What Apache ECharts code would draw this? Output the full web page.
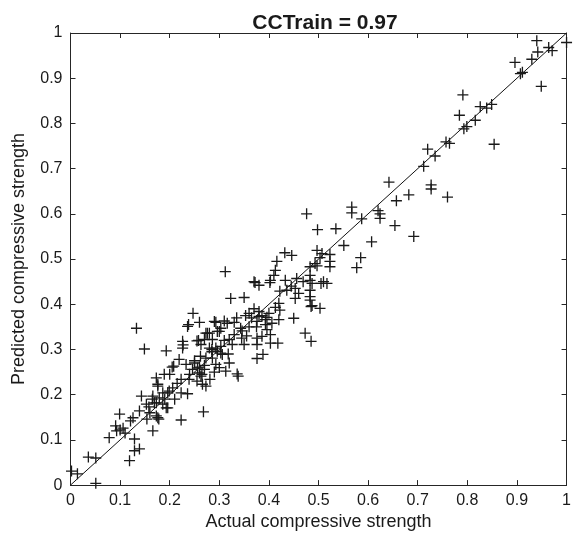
<!DOCTYPE html>
<html>
<head>
<meta charset="utf-8">
<script src="https://cdn.jsdelivr.net/npm/echarts@6/dist/echarts.min.js"></script>
<style>html,body{margin:0;padding:0;background:#fff}#c{width:574px;height:536px}</style>
</head>
<body>
<div id="c"></div>
<script>
const chartTitle = 'CCTrain = 0.97';
const xName = 'Actual compressive strength';
const yName = 'Predicted compressive strength';
const axisMin = 0, axisMax = 1, axisStep = 0.1;
const diagonal = [[0, 0], [1, 1]];

const actualValues = [
0.002,0.014,0.036,0.051,0.051,0.078,0.091,0.099,0.093,0.100,0.106,0.121,0.126,0.139,0.143,0.129,0.129,0.139,0.119,0.154,
0.158,0.166,0.165,0.176,0.173,0.179,0.186,0.176,0.193,0.133,0.149,0.193,0.223,0.268,0.247,0.236,0.260,0.227,0.219,0.208,
0.173,0.199,0.255,0.276,0.290,0.226,0.226,0.258,0.280,0.205,0.233,0.246,0.256,0.260,0.281,0.266,0.239,0.223,0.189,0.176,
0.206,0.196,0.223,0.236,0.166,0.153,0.169,0.186,0.196,0.173,0.178,0.312,0.370,0.323,0.350,0.293,0.300,0.238,0.372,0.402,
0.310,0.316,0.303,0.343,0.346,0.353,0.380,0.386,0.393,0.400,0.296,0.273,0.330,0.270,0.286,0.320,0.326,0.263,0.280,0.303,
0.350,0.376,0.296,0.306,0.273,0.286,0.376,0.260,0.270,0.293,0.320,0.313,0.336,0.338,0.263,0.273,0.432,0.446,0.416,0.413,
0.410,0.403,0.433,0.380,0.456,0.469,0.487,0.510,0.422,0.436,0.453,0.460,0.453,0.483,0.420,0.422,0.413,0.485,0.503,0.450,
0.396,0.380,0.376,0.393,0.406,0.420,0.396,0.376,0.386,0.403,0.403,0.418,0.473,0.485,0.388,0.567,0.567,0.587,0.620,0.624,
0.498,0.535,0.607,0.551,0.585,0.577,0.497,0.507,0.503,0.493,0.497,0.523,0.523,0.523,0.483,0.483,0.483,0.505,0.517,0.483,
0.483,0.487,0.476,0.940,0.964,0.971,1.000,0.942,0.930,0.896,0.907,0.911,0.949,0.791,0.826,0.839,0.849,0.784,0.816,0.793,
0.799,0.854,0.757,0.764,0.720,0.735,0.712,0.642,0.727,0.727,0.657,0.682,0.760,0.624,0.654,0.692,0.250,0.265,0.270,0.255,
0.240,0.285,0.310,0.330,0.335,0.360,0.365,0.370,0.290,0.300,0.355,0.360,0.215,0.210,0.190,0.160,0.110,0.200,0.375,0.445,
0.285,0.293,0.303,0.250,0.262,0.345,0.318
];
const predictedValues = [
0.031,0.025,0.062,0.060,0.004,0.105,0.131,0.157,0.120,0.122,0.126,0.142,0.149,0.164,0.197,0.102,0.076,0.080,0.054,0.146,
0.173,0.120,0.190,0.149,0.182,0.193,0.204,0.219,0.171,0.347,0.301,0.297,0.144,0.162,0.380,0.351,0.360,0.310,0.278,0.263,
0.237,0.208,0.319,0.336,0.362,0.318,0.303,0.320,0.336,0.261,0.267,0.256,0.259,0.248,0.234,0.223,0.234,0.234,0.245,0.223,
0.215,0.204,0.204,0.202,0.197,0.179,0.182,0.179,0.171,0.153,0.146,0.472,0.450,0.413,0.415,0.360,0.340,0.355,0.448,0.448,
0.363,0.358,0.347,0.347,0.341,0.375,0.384,0.375,0.366,0.380,0.340,0.336,0.333,0.322,0.322,0.322,0.311,0.311,0.303,0.307,
0.311,0.311,0.296,0.289,0.281,0.281,0.280,0.261,0.256,0.267,0.270,0.252,0.246,0.241,0.241,0.219,0.514,0.508,0.495,0.475,
0.464,0.453,0.453,0.442,0.457,0.450,0.446,0.450,0.429,0.431,0.435,0.424,0.413,0.409,0.402,0.387,0.393,0.395,0.391,0.369,
0.371,0.373,0.362,0.355,0.358,0.366,0.344,0.325,0.329,0.333,0.314,0.314,0.336,0.318,0.289,0.615,0.602,0.589,0.607,0.600,
0.565,0.567,0.538,0.530,0.503,0.481,0.519,0.512,0.503,0.490,0.485,0.510,0.495,0.483,0.483,0.464,0.453,0.446,0.446,0.431,
0.417,0.397,0.600,0.983,0.968,0.961,0.979,0.958,0.942,0.935,0.910,0.913,0.882,0.863,0.837,0.834,0.842,0.818,0.807,0.788,
0.793,0.754,0.759,0.756,0.743,0.728,0.705,0.670,0.664,0.655,0.629,0.642,0.637,0.590,0.574,0.550,0.270,0.245,0.265,0.230,
0.245,0.295,0.320,0.360,0.370,0.380,0.370,0.390,0.250,0.260,0.330,0.350,0.225,0.190,0.190,0.160,0.115,0.245,0.350,0.440,
0.300,0.303,0.292,0.275,0.285,0.325,0.290
];

const points = actualValues.map((v, i) => [v, predictedValues[i]]);

const textColor = '#1a1a1a';
const font = 'Liberation Sans, Arial, sans-serif';
const plus = 'path://M4.4,0h1.2v4.4h4.4v1.2h-4.4v4.4h-1.2v-4.4h-4.4v-1.2h4.4z';

function axisBase(extra) {
  return Object.assign({
    type: 'value', min: axisMin, max: axisMax, interval: axisStep,
    axisLine: { show: true, onZero: false, lineStyle: { color: '#262626', width: 1 } },
    axisTick: { show: true, inside: true, length: 5, lineStyle: { color: '#262626', width: 1 } },
    splitLine: { show: false },
    axisLabel: { show: true, color: textColor, fontFamily: font, fontSize: 16 }
  }, extra);
}

const chart = echarts.init(document.getElementById('c'), null, { renderer: 'canvas' });
chart.setOption({
  animation: false,
  backgroundColor: '#fff',
  title: {
    text: chartTitle, left: 320, top: 8, textAlign: 'center',
    textStyle: { fontFamily: font, fontSize: 21, fontWeight: 'bold', color: textColor }
  },
  grid: { left: 70.5, right: 4.5, top: 33, bottom: 48, containLabel: false },
  xAxis: [
    axisBase({ position: 'bottom', name: xName, nameLocation: 'middle', nameGap: 23,
      nameTextStyle: { fontFamily: font, fontSize: 18, color: textColor },
      axisLabel: { show: true, color: textColor, fontFamily: font, fontSize: 16, margin: 7 } }),
    axisBase({ position: 'top', axisLabel: { show: false } })
  ],
  yAxis: [
    axisBase({ position: 'left', name: yName, nameLocation: 'middle', nameGap: 42,
      nameTextStyle: { fontFamily: font, fontSize: 18, color: textColor },
      axisLabel: { show: true, color: textColor, fontFamily: font, fontSize: 16, margin: 8 } }),
    axisBase({ position: 'right', axisLabel: { show: false } })
  ],
  series: [
    {
      type: 'line', data: diagonal, symbol: 'none', silent: true,
      lineStyle: { color: '#111', width: 1 }, z: 1
    },
    {
      type: 'scatter', data: points, symbol: plus, symbolSize: 11,
      itemStyle: { color: '#1a1a1a', opacity: 1 }, z: 2
    }
  ]
});
</script>
</body>
</html>
